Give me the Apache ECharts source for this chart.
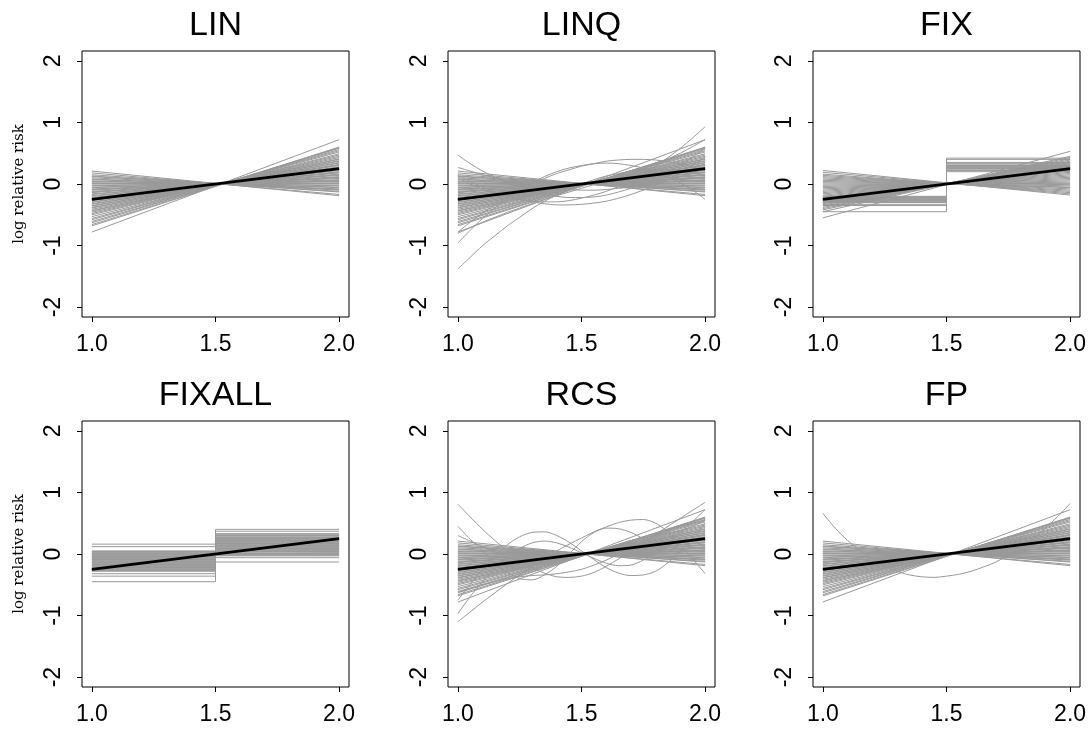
<!DOCTYPE html>
<html><head><meta charset="utf-8">
<script src="https://cdn.jsdelivr.net/npm/echarts@6/dist/echarts.min.js"></script>
<style>html,body{margin:0;padding:0;background:#fff}#c{width:1091px;height:734px}</style>
</head><body><div id="c"></div><script>
// ---------- data ----------
const panelTitles = ['LIN', 'LINQ', 'FIX', 'FIXALL', 'RCS', 'FP'];
const xTicks = [1.0, 1.5, 2.0];
const yTicks = [-2, -1, 0, 1, 2];
const yAxisTitle = 'log relative risk';

// true effect (black line)
const truthX = [1.0, 2.0];
const truthY = [-0.25, 0.25];

// near-linear fits: value at x = 1.0 and at x = 2.0
const linStart = [0.21, 0.18, 0.15, 0.13, 0.12, 0.10, 0.08, 0.07, 0.05, 0.04, 0.02, 0.01, 0.00, -0.02, -0.03, -0.05, -0.06, -0.08, -0.09, -0.10, -0.12, -0.13, -0.14, -0.16, -0.17, -0.19, -0.20, -0.22, -0.23, -0.25, -0.26, -0.27, -0.29, -0.30, -0.32, -0.33, -0.35, -0.36, -0.38, -0.39, -0.41, -0.43, -0.44, -0.46, -0.48, -0.50, -0.53, -0.56, -0.58, -0.61, -0.63, -0.66, -0.68, -0.78];
const linEnd = [-0.19, -0.17, -0.13, -0.12, -0.10, -0.09, -0.08, -0.06, -0.05, -0.03, -0.02, 0.00, 0.01, 0.02, 0.04, 0.05, 0.06, 0.07, 0.09, 0.10, 0.11, 0.12, 0.14, 0.15, 0.16, 0.18, 0.19, 0.20, 0.22, 0.23, 0.24, 0.26, 0.27, 0.28, 0.30, 0.31, 0.32, 0.34, 0.35, 0.37, 0.38, 0.40, 0.41, 0.43, 0.45, 0.47, 0.49, 0.52, 0.54, 0.56, 0.58, 0.59, 0.60, 0.72];

// curved fits, sampled at these x positions
const curveX = [1.00, 1.05, 1.10, 1.15, 1.20, 1.25, 1.30, 1.35, 1.40, 1.45, 1.50, 1.55, 1.60, 1.65, 1.70, 1.75, 1.80, 1.85, 1.90, 1.95, 2.00];
const linqCurves = [
  [-0.78, -0.62, -0.47, -0.34, -0.21, -0.10, 0.00, 0.09, 0.17, 0.23, 0.29, 0.33, 0.37, 0.39, 0.40, 0.40, 0.39, 0.36, 0.33, 0.28, 0.22],
  [-0.96, -0.75, -0.56, -0.39, -0.24, -0.10, 0.02, 0.12, 0.20, 0.26, 0.30, 0.33, 0.34, 0.33, 0.30, 0.26, 0.20, 0.12, 0.02, -0.10, -0.25],
  [-1.38, -1.19, -1.00, -0.84, -0.68, -0.54, -0.40, -0.28, -0.18, -0.08, 0.00, 0.07, 0.13, 0.17, 0.21, 0.23, 0.23, 0.23, 0.21, 0.18, 0.14],
  [0.10, 0.00, -0.09, -0.16, -0.21, -0.25, -0.28, -0.29, -0.29, -0.27, -0.23, -0.18, -0.12, -0.04, 0.06, 0.17, 0.29, 0.43, 0.58, 0.75, 0.93],
  [0.14, 0.04, -0.05, -0.13, -0.20, -0.25, -0.29, -0.32, -0.34, -0.34, -0.33, -0.31, -0.28, -0.23, -0.17, -0.10, -0.02, 0.08, 0.19, 0.31, 0.44],
  [0.47, 0.33, 0.21, 0.11, 0.02, -0.06, -0.12, -0.17, -0.20, -0.22, -0.22, -0.21, -0.18, -0.13, -0.07, 0.00, 0.09, 0.19, 0.31, 0.44, 0.59],
  [-0.80, -0.71, -0.62, -0.54, -0.46, -0.39, -0.32, -0.25, -0.19, -0.13, -0.07, -0.01, 0.05, 0.11, 0.18, 0.25, 0.32, 0.41, 0.50, 0.61, 0.72],
  [0.27, 0.21, 0.15, 0.10, 0.05, 0.01, -0.03, -0.06, -0.08, -0.09, -0.10, -0.10, -0.09, -0.07, -0.05, -0.02, 0.02, 0.07, 0.12, 0.18, 0.25]
];
const rcsCurves = [
  [0.81, 0.60, 0.40, 0.22, 0.05, -0.09, -0.22, -0.31, -0.37, -0.38, -0.36, -0.30, -0.20, -0.08, 0.05, 0.18, 0.32, 0.45, 0.58, 0.71, 0.84],
  [-1.10, -0.94, -0.78, -0.63, -0.48, -0.34, -0.20, -0.07, 0.05, 0.16, 0.26, 0.36, 0.44, 0.51, 0.55, 0.56, 0.50, 0.36, 0.15, -0.08, -0.32],
  [-0.75, -0.49, -0.25, -0.04, 0.15, 0.28, 0.35, 0.36, 0.30, 0.19, 0.05, -0.09, -0.22, -0.31, -0.35, -0.34, -0.28, -0.14, 0.05, 0.27, 0.50],
  [0.45, 0.24, 0.05, -0.14, -0.30, -0.40, -0.42, -0.34, -0.20, 0.00, 0.20, 0.35, 0.42, 0.41, 0.35, 0.25, 0.15, 0.07, 0.02, 0.00, 0.00],
  [-0.97, -0.69, -0.45, -0.23, -0.05, 0.09, 0.18, 0.21, 0.18, 0.11, 0.02, -0.07, -0.15, -0.19, -0.18, -0.10, 0.02, 0.17, 0.35, 0.53, 0.72],
  [0.30, 0.21, 0.12, 0.03, -0.05, -0.11, -0.15, -0.15, -0.12, -0.07, -0.02, 0.04, 0.10, 0.16, 0.22, 0.26, 0.30, 0.34, 0.38, 0.45, 0.55],
  [-0.62, -0.56, -0.50, -0.45, -0.40, -0.37, -0.35, -0.34, -0.32, -0.29, -0.25, -0.18, -0.10, 0.00, 0.10, 0.20, 0.30, 0.38, 0.45, 0.50, 0.55]
];
const fpCurves = [
  [0.66, 0.42, 0.22, 0.06, -0.08, -0.19, -0.28, -0.34, -0.37, -0.38, -0.36, -0.33, -0.28, -0.21, -0.13, -0.02, 0.10, 0.25, 0.42, 0.61, 0.82]
];

// FIX: linear fits through the cut point, value at x = 1.0 and x = 2.0
const fixStart = [0.22, 0.19, 0.16, 0.14, 0.12, 0.10, 0.08, 0.06, 0.04, 0.02, 0.00, -0.02, -0.04, -0.06, -0.08, -0.10, -0.12, -0.14, -0.16, -0.18, -0.20, -0.22, -0.24, -0.26, -0.28, -0.30, -0.32, -0.34, -0.36, -0.38, -0.40, -0.42, -0.45, -0.55];
const fixEnd = [-0.18, -0.16, -0.14, -0.12, -0.10, -0.08, -0.06, -0.05, -0.03, -0.01, 0.01, 0.03, 0.05, 0.07, 0.09, 0.11, 0.13, 0.15, 0.17, 0.19, 0.21, 0.23, 0.25, 0.27, 0.29, 0.31, 0.33, 0.35, 0.37, 0.39, 0.41, 0.43, 0.45, 0.53];
// FIX: step fits, level below and above the cut at x = 1.5
const fixStepLow = [-0.20, -0.21, -0.22, -0.23, -0.24, -0.25, -0.26, -0.27, -0.28, -0.29, -0.30, -0.33, -0.35, -0.45];
const fixStepHigh = [0.20, 0.22, 0.24, 0.25, 0.26, 0.27, 0.28, 0.29, 0.30, 0.31, 0.33, 0.35, 0.40, 0.42];
// FIXALL: step fits
const fixallLow = [0.16, 0.12, 0.05, 0.04, 0.03, 0.02, 0.01, 0.00, -0.01, -0.02, -0.03, -0.04, -0.05, -0.06, -0.07, -0.08, -0.09, -0.10, -0.11, -0.12, -0.13, -0.14, -0.15, -0.16, -0.17, -0.18, -0.19, -0.20, -0.21, -0.22, -0.23, -0.24, -0.25, -0.26, -0.27, -0.28, -0.32, -0.36, -0.45];
const fixallHigh = [-0.13, -0.06, -0.03, -0.02, -0.01, 0.00, 0.01, 0.02, 0.03, 0.04, 0.05, 0.06, 0.07, 0.08, 0.09, 0.10, 0.11, 0.12, 0.13, 0.14, 0.15, 0.16, 0.17, 0.18, 0.19, 0.20, 0.21, 0.22, 0.23, 0.24, 0.25, 0.26, 0.27, 0.28, 0.30, 0.32, 0.33, 0.37, 0.40];
const cutX = 1.5;

// ---------- layout ----------
const gridLefts = [82, 448, 813];
const gridTops = [51, 421];
const gridW = 267, gridH = 266;
const GRAY = '#999999';
const SANS = 'Liberation Sans, Arial, Helvetica, sans-serif';

const grids = [], xAxes = [], yAxes = [], titles = [], series = [];
for (let i = 0; i < 6; i++) {
  const col = i % 3, row = Math.floor(i / 3);
  const left = gridLefts[col], top = gridTops[row];
  grids.push({left: left, top: top, width: gridW, height: gridH, show: true,
    borderColor: '#000', borderWidth: 1, backgroundColor: 'transparent'});
  xAxes.push({gridIndex: i, type: 'value', min: 0.96, max: 2.04,
    splitLine: {show: false}, axisLine: {show: false, onZero: false},
    axisTick: {show: true, length: 5, customValues: xTicks, lineStyle: {color: '#000', width: 1}},
    axisLabel: {customValues: xTicks, formatter: v => v.toFixed(1), color: '#000',
      fontFamily: SANS, fontSize: 23, margin: 16}});
  const ya = {gridIndex: i, type: 'value', min: -2.16, max: 2.16,
    splitLine: {show: false}, axisLine: {show: false, onZero: false},
    axisTick: {show: true, length: 5, customValues: yTicks, lineStyle: {color: '#000', width: 1}},
    axisLabel: {customValues: yTicks, formatter: v => String(v), rotate: 90, color: '#000',
      fontFamily: SANS, fontSize: 23, margin: 17}};
  if (col === 0) {
    ya.name = yAxisTitle; ya.nameLocation = 'middle'; ya.nameRotate = 90; ya.nameGap = 55;
    ya.nameTextStyle = {fontFamily: 'DejaVu Serif, Liberation Serif, serif', fontSize: 15, color: '#000'};
  }
  yAxes.push(ya);
  titles.push({text: panelTitles[i], left: left + gridW / 2, top: top - 42, textAlign: 'center', padding: 0,
    textStyle: {fontFamily: SANS, fontSize: 34, fontWeight: 'normal', color: '#000'}});
}

function addLine(p, pts, smooth) {
  series.push({type: 'line', xAxisIndex: p, yAxisIndex: p, data: pts, smooth: smooth ? 0.3 : false,
    symbol: 'none', silent: true, animation: false, z: 2,
    lineStyle: {color: GRAY, width: 1}});
}
function addBand(p, starts, ends) {
  for (let k = 0; k < starts.length; k++) addLine(p, [[xTicks[0], starts[k]], [xTicks[2], ends[k]]]);
}
function addCurves(p, curves) {
  curves.forEach(c => addLine(p, c.map((v, j) => [curveX[j], v]), true));
}
function addSteps(p, lows, highs) {
  for (let k = 0; k < lows.length; k++)
    addLine(p, [[xTicks[0], lows[k]], [cutX, lows[k]], [cutX, highs[k]], [xTicks[2], highs[k]]]);
}

// LIN
addBand(0, linStart, linEnd);
// LINQ
addBand(1, linStart, linEnd); addCurves(1, linqCurves);
// FIX
addBand(2, fixStart, fixEnd); addSteps(2, fixStepLow, fixStepHigh);
// FIXALL
addSteps(3, fixallLow, fixallHigh);
// RCS
addBand(4, linStart, linEnd); addCurves(4, rcsCurves);
// FP
addBand(5, linStart, linEnd); addCurves(5, fpCurves);

// true effect on top
for (let i = 0; i < 6; i++) {
  series.push({type: 'line', xAxisIndex: i, yAxisIndex: i, data: truthX.map((x, j) => [x, truthY[j]]),
    symbol: 'none', silent: true, animation: false, z: 5, lineStyle: {color: '#000', width: 2.6}});
}

const chart = echarts.init(document.getElementById('c'), null, {renderer: 'canvas'});
chart.setOption({backgroundColor: '#fff', animation: false, title: titles, grid: grids,
  xAxis: xAxes, yAxis: yAxes, series: series, tooltip: {show: false}});
</script></body></html>
